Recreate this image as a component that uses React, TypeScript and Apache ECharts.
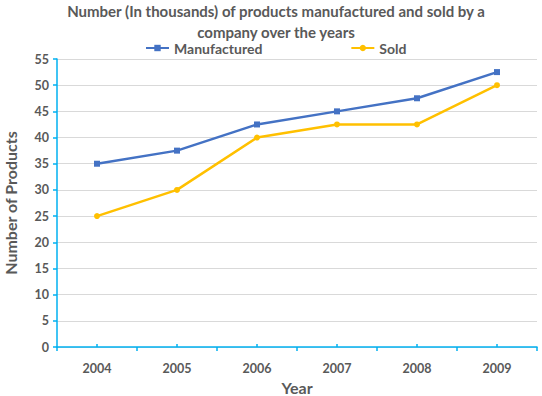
import React, { useEffect, useRef } from "react";
import * as echarts from "echarts";

const years = ["2004", "2005", "2006", "2007", "2008", "2009"];
const manufactured = [35, 37.5, 42.5, 45, 47.5, 52.5];
const sold = [25, 30, 40, 42.5, 42.5, 50];

const FONT = "Lato";
const GRAY = "#595959";
const AXIS_BLUE = "#00B0F0";

export default function App() {
  const ref = useRef<HTMLDivElement>(null);
  useEffect(() => {
    if (!ref.current) return;
    const chart = echarts.init(ref.current, null, { renderer: "svg" });
    chart.setOption({
      animation: false,
      textStyle: { fontFamily: FONT },
      title: {
        text: "Number (In thousands) of products manufactured and sold by a\ncompany over the years",
        left: 276,
        textAlign: "center",
        top: 0,
        padding: 0,
        textStyle: { fontFamily: FONT, fontSize: 15, fontWeight: "bold", color: GRAY, lineHeight: 21 },
      },
      legend: {
        left: 145,
        top: 41,
        padding: 0,
        itemGap: 88,
        itemWidth: 23,
        itemHeight: 8,
        textStyle: { fontFamily: FONT, fontSize: 14, fontWeight: "bold", color: GRAY },
        data: ["Manufactured", "Sold"],
      },
      grid: { left: 57, right: 5, top: 59, bottom: 49, outerBoundsMode: "none", containLabel: false },
      xAxis: [
        {
          type: "category",
          data: years,
          boundaryGap: true,
          name: "Year",
          nameLocation: "middle",
          nameGap: 31,
          nameTextStyle: { fontFamily: FONT, fontSize: 16, fontWeight: "bold", color: GRAY },
          axisLine: { lineStyle: { color: AXIS_BLUE, width: 1.5 } },
          axisTick: { show: true, alignWithLabel: false, length: 4, lineStyle: { color: AXIS_BLUE, width: 1.5 } },
          axisLabel: { fontFamily: FONT, fontSize: 12.5, fontWeight: "bold", color: GRAY, margin: 15 },
          splitLine: { show: false },
        },
        {
          type: "category",
          data: years,
          boundaryGap: true,
          position: "bottom",
          axisLine: { show: false },
          axisTick: { show: true, alignWithLabel: true, inside: true, length: 3, lineStyle: { color: AXIS_BLUE, width: 1.5 } },
          axisLabel: { show: false },
          splitLine: { show: false },
        },
      ],
      yAxis: {
        type: "value",
        min: 0,
        max: 55,
        interval: 5,
        name: "Number of Products",
        nameLocation: "middle",
        nameGap: 39,
        nameTextStyle: { fontFamily: FONT, fontSize: 16, fontWeight: "bold", color: GRAY },
        axisLine: { show: true, lineStyle: { color: AXIS_BLUE, width: 1.5 } },
        axisTick: { show: true, length: 4, lineStyle: { color: AXIS_BLUE, width: 1.5 } },
        axisLabel: { fontFamily: FONT, fontSize: 12.5, fontWeight: "bold", color: GRAY, margin: 8 },
        splitLine: { show: true, lineStyle: { color: "#D9D9D9", width: 1 } },
      },
      series: [
        {
          name: "Manufactured",
          type: "line",
          data: manufactured,
          symbol: "rect",
          symbolSize: 6,
          lineStyle: { color: "#4472C4", width: 2.5 },
          itemStyle: { color: "#4472C4" },
        },
        {
          name: "Sold",
          type: "line",
          data: sold,
          symbol: "circle",
          symbolSize: 6,
          lineStyle: { color: "#FFC000", width: 2.5 },
          itemStyle: { color: "#FFC000" },
        },
      ],
    });
    return () => chart.dispose();
  }, []);
  return <div ref={ref} style={{ width: 542, height: 396, position: "absolute", left: 0, top: 0 }} />;
}
